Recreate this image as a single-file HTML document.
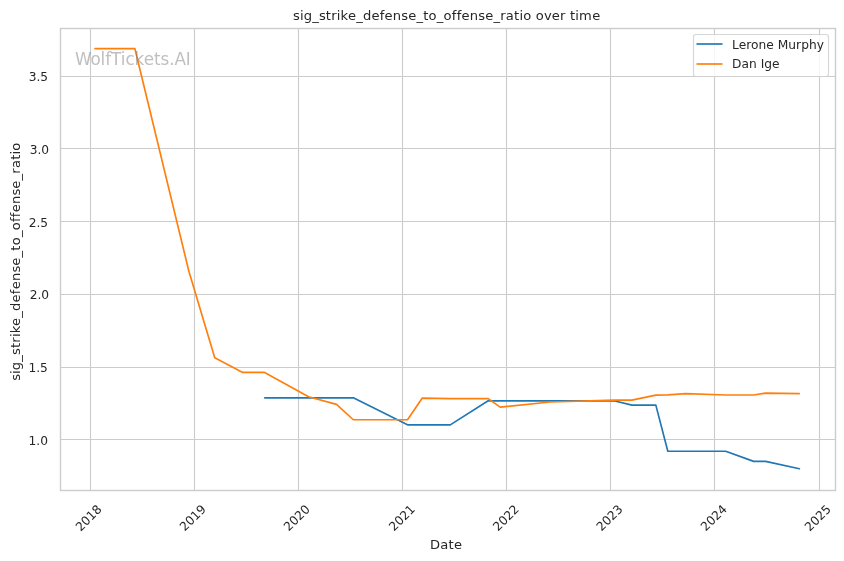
<!DOCTYPE html>
<html lang="en">
<head>
<meta charset="utf-8">
<title>sig_strike_defense_to_offense_ratio over time</title>
<style>
html,body{margin:0;padding:0;background:#fff;}
body{width:844px;height:561px;overflow:hidden;}
svg{display:block;}
text{font-family:"DejaVu Sans", "Liberation Sans", sans-serif;fill:#262626;font-variant-ligatures:none;font-feature-settings:"liga" 0,"clig" 0;font-kerning:none;}
.tk{font-size:12.22px;}
.lb{font-size:13.1px;}
</style>
</head>
<body>
<svg width="844" height="561" viewBox="0 0 844 561">
<rect x="0" y="0" width="844" height="561" fill="#ffffff"/>
<g stroke="#cccccc" stroke-width="1.11" fill="none">
<line x1="90.5" y1="28.5" x2="90.5" y2="490.5"/>
<line x1="194.5" y1="28.5" x2="194.5" y2="490.5"/>
<line x1="298.5" y1="28.5" x2="298.5" y2="490.5"/>
<line x1="402.5" y1="28.5" x2="402.5" y2="490.5"/>
<line x1="506.5" y1="28.5" x2="506.5" y2="490.5"/>
<line x1="610.5" y1="28.5" x2="610.5" y2="490.5"/>
<line x1="714.5" y1="28.5" x2="714.5" y2="490.5"/>
<line x1="819.5" y1="28.5" x2="819.5" y2="490.5"/>
<line x1="60.5" y1="76.5" x2="835.5" y2="76.5"/>
<line x1="60.5" y1="148.5" x2="835.5" y2="148.5"/>
<line x1="60.5" y1="221.5" x2="835.5" y2="221.5"/>
<line x1="60.5" y1="294.5" x2="835.5" y2="294.5"/>
<line x1="60.5" y1="367.5" x2="835.5" y2="367.5"/>
<line x1="60.5" y1="439.5" x2="835.5" y2="439.5"/>
</g>
<polyline points="264.65,397.85 353.32,397.85 407.49,424.85 450.26,424.85 488.19,400.80 613.93,400.80 631.89,405.15 655.84,405.15 667.81,451.25 725.70,451.25 753.64,461.40 765.61,461.40 799.35,468.70" fill="none" stroke="#1f77b4" stroke-width="1.667" stroke-linecap="round" stroke-linejoin="round"/>
<polyline points="95.00,48.70 134.91,48.70 188.80,271.00 214.75,357.80 242.69,372.40 264.65,372.40 308.56,396.75 336.50,404.40 353.32,419.75 407.49,419.75 422.32,398.05 450.26,398.60 488.19,398.65 500.16,407.15 550.06,402.00 613.93,400.15 631.89,400.15 655.84,395.10 667.81,394.90 685.78,393.70 725.70,395.00 753.64,395.00 765.61,393.10 799.35,393.60" fill="none" stroke="#ff7f0e" stroke-width="1.667" stroke-linecap="round" stroke-linejoin="round"/>
<rect x="60.5" y="28.5" width="775.0" height="462.0" fill="none" stroke="#cccccc" stroke-width="1.39" stroke-linejoin="miter"/>
<text x="74.97 90.47 100.59 105.22 111.09 120.84 125.47 134.59 143.72 153.97 160.47 169.22 174.47 185.84" y="65.0" style="font-size:16.8px;fill:#808080;fill-opacity:0.5">WolfTickets.AI</text>
<rect x="693.5" y="34.5" width="135.0" height="42.0" rx="2.4" ry="2.4" fill="#ffffff" fill-opacity="0.8" stroke="#cccccc" stroke-opacity="0.8" stroke-width="1.11"/>
<line x1="696.5" y1="44.0" x2="722.5" y2="44.0" stroke="#1f77b4" stroke-width="1.667"/>
<line x1="696.5" y1="64.0" x2="722.5" y2="64.0" stroke="#ff7f0e" stroke-width="1.667"/>
<text class="tk" x="732.05 738.67 746.17 751.05 758.55 766.30 773.80 777.67 788.30 796.05 801.17 808.92 816.67" y="49.0">Lerone Murphy</text>
<text class="tk" x="732.05 741.55 749.05 756.80 760.67 764.30 772.05" y="68.0">Dan Ige</text>
<text class="lb" x="293.11 299.99 303.74 312.24 318.99 325.86 331.24 336.86 340.61 347.99 356.24 362.99 371.49 379.74 384.61 392.86 401.36 408.24 416.49 423.24 428.61 436.86 443.61 451.86 456.74 461.61 469.86 478.36 485.24 493.49 500.24 505.86 514.11 519.49 523.24 531.49 535.74 543.99 551.86 560.11 565.74 569.99 575.36 579.11 592.24" y="20.0">sig_strike_defense_to_offense_ratio over time</text>
<text class="lb" x="430.06 440.31 448.56 453.94" y="549.0">Date</text>
<text class="lb" transform="translate(20.00 380.80) rotate(-90)" x="0.00 6.88 10.62 19.12 25.88 32.75 38.12 43.75 47.50 54.88 63.12 69.88 78.38 86.62 91.50 99.75 108.25 115.12 123.38 130.12 135.50 143.75 150.50 158.75 163.62 168.50 176.75 185.25 192.12 200.38 207.12 212.75 221.00 226.38 230.12" y="0">sig_strike_defense_to_offense_ratio</text>
<text class="tk" x="28.66 36.41 40.29" y="81">3.5</text>
<text class="tk" x="29.72 37.47 41.34" y="154">3.0</text>
<text class="tk" x="28.63 36.38 40.26" y="227">2.5</text>
<text class="tk" x="29.71 37.45 41.33" y="299">2.0</text>
<text class="tk" x="28.44 36.19 40.06" y="372">1.5</text>
<text class="tk" x="28.51 36.26 40.13" y="445">1.0</text>
<text class="tk" transform="translate(88.45 517.70) rotate(-45)" x="-15.56 -7.81 -0.06 7.69" y="4.5">2018</text>
<text class="tk" transform="translate(192.62 517.70) rotate(-45)" x="-15.50 -7.75 0.00 7.75" y="4.5">2019</text>
<text class="tk" transform="translate(296.47 517.70) rotate(-45)" x="-15.50 -7.75 0.00 7.75" y="4.5">2020</text>
<text class="tk" transform="translate(401.70 517.70) rotate(-45)" x="-15.50 -7.75 0.00 7.75" y="4.5">2021</text>
<text class="tk" transform="translate(505.71 517.70) rotate(-45)" x="-15.50 -7.75 0.00 7.75" y="4.5">2022</text>
<text class="tk" transform="translate(609.39 517.70) rotate(-45)" x="-15.50 -7.75 0.00 7.75" y="4.5">2023</text>
<text class="tk" transform="translate(713.60 517.70) rotate(-45)" x="-15.50 -7.75 0.00 7.75" y="4.5">2024</text>
<text class="tk" transform="translate(817.61 517.70) rotate(-45)" x="-15.56 -7.81 -0.06 7.69" y="4.5">2025</text>
</svg>
</body>
</html>
